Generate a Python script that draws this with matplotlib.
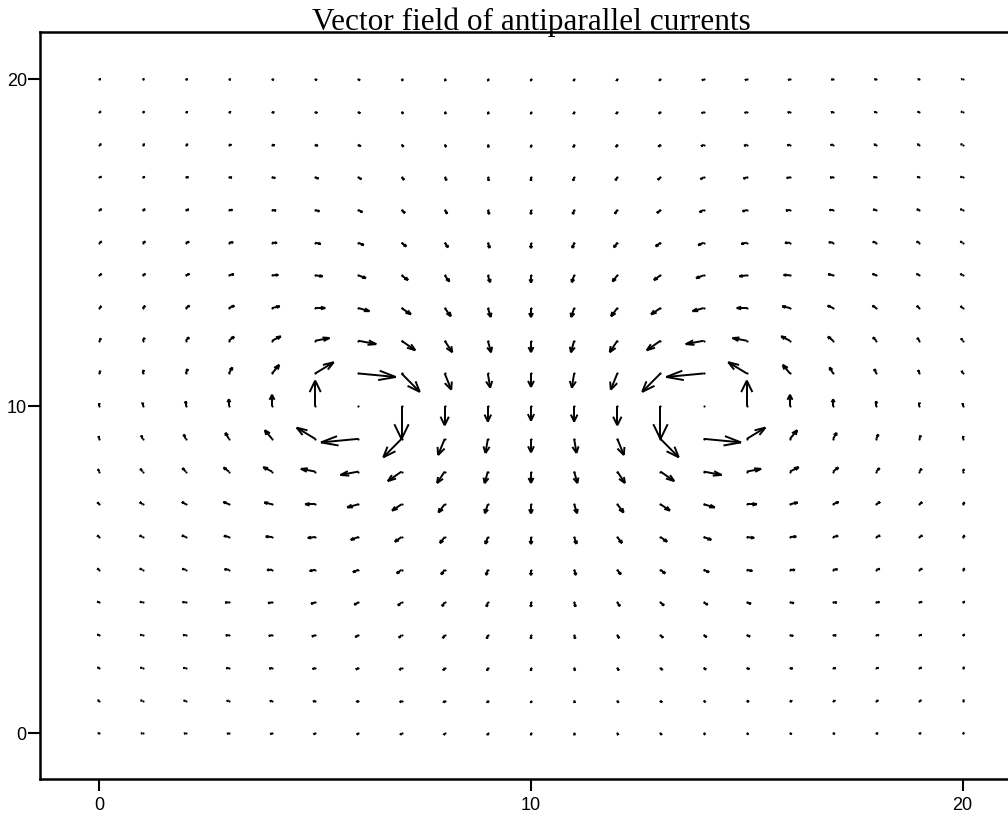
import numpy as np
import matplotlib
matplotlib.use("Agg")
import matplotlib.pyplot as plt
from matplotlib.collections import LineCollection
from matplotlib import transforms

# ---------------- data ----------------
TITLE = "Vector field of antiparallel currents"
GRID_X = list(range(0, 21))
GRID_Y = list(range(0, 21))
CURRENT_X = [6.0, 14.0]      # positions of the two wires
CURRENT_Y = [10.0, 10.0]
CURRENT_I = [-1.0, 1.0]      # antiparallel: left clockwise, right counter-clockwise
X_TICKS = [0, 10, 20]
Y_TICKS = [0, 10, 20]
ARROW_SCALE = 0.88           # arrow length (data units) per unit of field
HEAD_LEN = 0.45              # fraction of arrow length
HEAD_HALF_WIDTH = 0.165      # fraction of arrow length

# ---------------- field ----------------
X, Y = np.meshgrid(np.array(GRID_X, float), np.array(GRID_Y, float))
U = np.zeros_like(X)
V = np.zeros_like(Y)
singular = np.zeros(X.shape, bool)
for cx, cy, cur in zip(CURRENT_X, CURRENT_Y, CURRENT_I):
    dx = X - cx
    dy = Y - cy
    r2 = dx ** 2 + dy ** 2
    sing = r2 == 0
    singular |= sing
    r2s = np.where(sing, 1.0, r2)
    U += np.where(sing, 0.0, -cur * dy / r2s)
    V += np.where(sing, 0.0, cur * dx / r2s)
U[singular] = 0.0
V[singular] = 0.0
U *= ARROW_SCALE
V *= ARROW_SCALE

# ---------------- figure ----------------
W, H = 1008, 814
fig = plt.figure(figsize=(W / 100, H / 100), dpi=100)
left_px, right_px, top_px, bottom_px = 40, 1022, 32, 779
ax = fig.add_axes([left_px / W, 1 - bottom_px / H,
                   (right_px - left_px) / W, (bottom_px - top_px) / H])
ax.set_xlim(-1.376, 21.376)
ax.set_ylim(-1.40, 21.44)

segs = []
for x0, y0, u, v in zip(X.ravel(), Y.ravel(), U.ravel(), V.ravel()):
    if u == 0 and v == 0:
        continue
    tx, ty = x0 + u, y0 + v
    bx, by = tx - HEAD_LEN * u, ty - HEAD_LEN * v
    px, py = -v * HEAD_HALF_WIDTH, u * HEAD_HALF_WIDTH
    segs.append([(x0, y0), (tx, ty)])
    segs.append([(bx + px, by + py), (tx, ty)])
    segs.append([(bx - px, by - py), (tx, ty)])
lc = LineCollection(segs, colors="black", linewidths=1.4,
                    capstyle="butt", joinstyle="round")
ax.add_collection(lc)
# tail dots (visible where the field is ~0)
ax.scatter(X.ravel(), Y.ravel(), s=2.4, c="black", linewidths=0, zorder=3)

for s in ("left", "bottom", "top"):
    ax.spines[s].set_linewidth(1.8)
ax.spines["right"].set_visible(False)

ax.set_xticks(X_TICKS)
ax.set_yticks(Y_TICKS)
ax.set_xticklabels([str(t) for t in X_TICKS])
ax.set_yticklabels([str(t) for t in Y_TICKS])
ax.tick_params(direction="out", length=8.5, width=1.5, pad=4.5)
ax.tick_params(axis="y", pad=1.0)
for lab in ax.get_xticklabels() + ax.get_yticklabels():
    lab.set_family(["Liberation Sans", "DejaVu Sans"])
    lab.set_fontsize(13)

off = transforms.offset_copy(ax.transAxes, fig=fig, x=0, y=1.5, units="points")
ax.text(0.5, 1.0, TITLE, transform=off, ha="center", va="baseline",
        fontsize=22.5, family=["Liberation Serif", "DejaVu Serif"])

fig.savefig("out.png", dpi=100)
